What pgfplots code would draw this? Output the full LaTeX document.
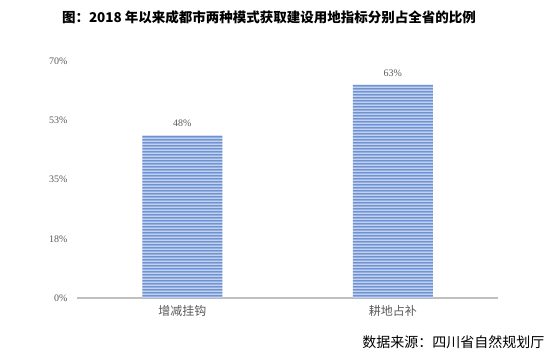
\documentclass[border=0pt]{standalone}
\usepackage{pgfplots}
\pgfplotsset{compat=1.18}
\usetikzlibrary{patterns}
\usepackage{fontspec}
\setmainfont{Liberation Serif}
\newfontfamily\cjk{Noto Sans CJK SC}
\definecolor{darkblue}{HTML}{4472C4}
\definecolor{lightblue}{HTML}{C2D1EE}
\definecolor{txtgray}{HTML}{595959}
\definecolor{axgray}{HTML}{BFBFBF}
\pgfdeclarepatternformonly{hstripes}{\pgfqpoint{0bp}{0bp}}{\pgfqpoint{200bp}{3bp}}{\pgfqpoint{200bp}{3bp}}{%
  \pgfsetlinewidth{1.3bp}%
  \pgfpathmoveto{\pgfqpoint{-1bp}{1.5bp}}%
  \pgfpathlineto{\pgfqpoint{201bp}{1.5bp}}%
  \pgfusepath{stroke}}
\begin{document}
\begin{tikzpicture}
\useasboundingbox (0,0) rectangle (553bp,357bp);
\node[font=\cjk\bfseries\fontsize{13.5bp}{15bp}\selectfont] at (269bp,340bp) {图：2018 年以来成都市两种模式获取建设用地指标分别占全省的比例};
\begin{axis}[
  at={(77bp,59bp)}, anchor=south west,
  scale only axis, width=421bp, height=237bp,
  xmin=-0.5, xmax=1.5, ymin=0, ymax=70,
  axis x line=bottom, axis y line*=left,
  x axis line style={draw=axgray, line width=1.3bp, -},
  y axis line style={draw=none},
  xtick={0,1}, xticklabels={增减挂钩,耕地占补},
  xticklabel style={font=\cjk\fontsize{12bp}{14bp}\selectfont, text=txtgray, yshift=-4bp},
  major tick length=0pt,
  ytick={0,17.5,35,52.5,70},
  yticklabels={0\%,18\%,35\%,53\%,70\%},
  yticklabel style={font=\fontsize{10bp}{11bp}\selectfont, text=txtgray, xshift=-6bp},
  /pgf/number format/assume math mode=true,
  clip=false,
]
\addplot[ybar, bar width=80bp, draw=none, fill=lightblue,
  postaction={pattern=hstripes, pattern color=darkblue},
  nodes near coords={\pgfmathprintnumber{\pgfplotspointmeta}\%},
  nodes near coords style={font=\fontsize{10bp}{11bp}\selectfont, text=txtgray, yshift=5bp},
  point meta=y]
  coordinates {(0,48) (1,63)};
\end{axis}
\node[font=\cjk\fontsize{14bp}{16bp}\selectfont, anchor=east] at (548bp,15bp) {数据来源：四川省自然规划厅};
\end{tikzpicture}
\end{document}
